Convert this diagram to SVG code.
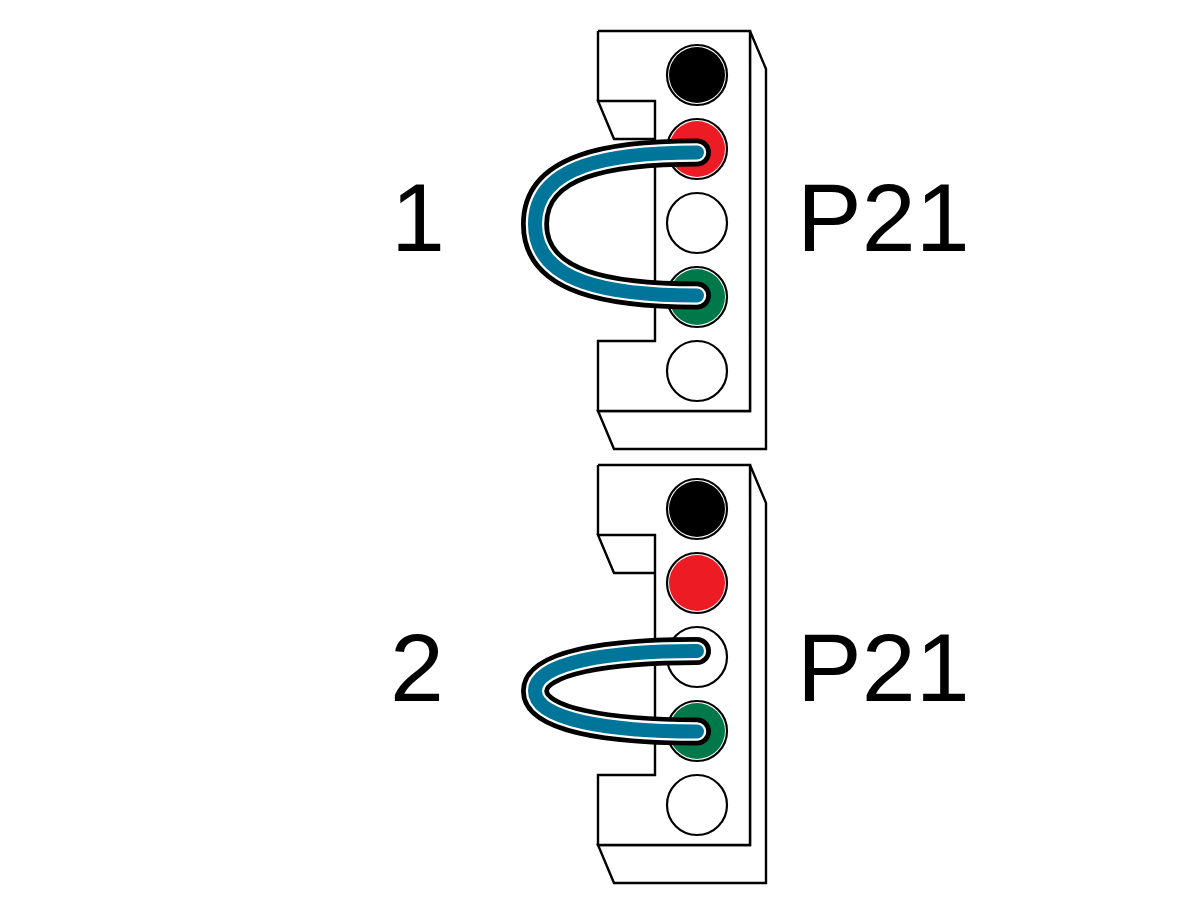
<svg xmlns="http://www.w3.org/2000/svg" width="1200" height="900" viewBox="0 0 1200 900">
<style>
.b{fill:#fff;stroke:#000;stroke-width:2.4;stroke-linejoin:miter}
.o{fill:#fff;stroke:#000;stroke-width:2.2}
.f{stroke:none}
.k{fill:none;stroke-linecap:round}
.c1{stroke:#000;stroke-width:28}
.c2{stroke:#fff;stroke-width:18.500}
.c3{stroke:#00759a;stroke-width:14}
text{font-family:"Liberation Sans",Arial,sans-serif;font-size:97px;fill:#000}
</style>
<defs>
<g id="body">
<path class="b" d="M750 31L766 69V449H614L598 411H750Z"/>
<path class="b" d="M598 31H750V411H598V341H655V139H614L598 101H655V139M598 101V31"/>
</g>
<g id="pin"><circle class="o" r="30"/></g>
</defs>
<g id="connector-1">
<use href="#body"/>
<g transform="translate(697,75)"><circle class="o" r="30"/><circle class="f" r="28" fill="#000"/></g>
<g transform="translate(697,149)"><circle class="o" r="30"/><circle class="f" r="28" fill="#ed1c24"/></g>
<use href="#pin" x="697" y="223"/>
<g transform="translate(697,297)"><circle class="o" r="30"/><circle class="f" r="28" fill="#00784a"/></g>
<use href="#pin" x="697" y="371"/>
</g>
<g id="connector-2">
<use href="#body" y="434"/>
<g transform="translate(697,509)"><circle class="o" r="30"/><circle class="f" r="28" fill="#000"/></g>
<g transform="translate(697,583)"><circle class="o" r="30"/><circle class="f" r="28" fill="#ed1c24"/></g>
<use href="#pin" x="697" y="657"/>
<g transform="translate(697,731)"><circle class="o" r="30"/><circle class="f" r="28" fill="#00784a"/></g>
<use href="#pin" x="697" y="805"/>
</g>
<g id="connectors">
<g id="jumper-1" class="k">
<path class="c1" d="M697 152.500C610 152.500 535 165 535 224C535 283 610 295.500 697 295.500"/>
<path class="c2" d="M697 152.500C610 152.500 535 165 535 224C535 283 610 295.500 697 295.500"/>
<path class="c3" d="M697 152.500C610 152.500 535 165 535 224C535 283 610 295.500 697 295.500"/>
</g>
<g id="jumper-2" class="k">
<path class="c1" d="M697 651C610 651 535 662 535 691C535 720 610 731.500 697 731.500"/>
<path class="c2" d="M697 651C610 651 535 662 535 691C535 720 610 731.500 697 731.500"/>
<path class="c3" d="M697 651C610 651 535 662 535 691C535 720 610 731.500 697 731.500"/>
</g>
</g>
<g id="labels">
<text x="391" y="251">1</text>
<text x="797" y="251">P21</text>
<text x="390" y="701">2</text>
<text x="797" y="701">P21</text>
</g>
</svg>
